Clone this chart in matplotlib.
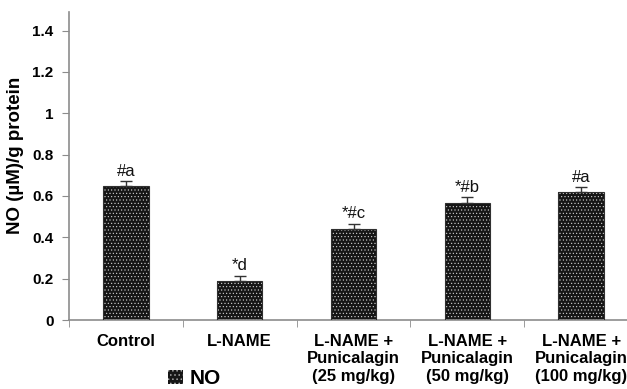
import numpy as np
import matplotlib
matplotlib.use('Agg')
import matplotlib.pyplot as plt
from matplotlib.patches import Patch

plt.rcParams['font.family'] = ['Liberation Sans', 'DejaVu Sans']
plt.rcParams['hatch.linewidth'] = 0.4

groups = ['Control', 'L-NAME', 'L-NAME +\nPunicalagin\n(25 mg/kg)',
          'L-NAME +\nPunicalagin\n(50 mg/kg)', 'L-NAME +\nPunicalagin\n(100 mg/kg)']
no_level = [0.65, 0.19, 0.44, 0.568, 0.617]
no_err = [0.022, 0.025, 0.025, 0.025, 0.025]
marks = ['#a', '*d', '*#c', '*#b', '#a']
yticks = [0, 0.2, 0.4, 0.6, 0.8, 1, 1.2, 1.4]

fig = plt.figure(figsize=(6.27, 3.89), dpi=100)
ax = fig.add_axes([69 / 627, 1 - 320 / 389, (638 - 69) / 627, 308 / 389])

x = np.arange(len(groups))
axis_col = '#8c8c8c'
bar_col = '#161616'

# dark bars with a fine white dot pattern, outline drawn on top
ax.bar(x, no_level, width=0.4, color=bar_col, edgecolor='#d8d8d8',
       hatch='.....', linewidth=0, zorder=2)
ax.bar(x, no_level, width=0.4, fill=False, edgecolor='#303030',
       linewidth=0.8, zorder=3)
ax.errorbar(x, no_level, yerr=[np.zeros(len(no_err)), no_err], fmt='none',
            ecolor='#333333', elinewidth=1.0, capsize=4, capthick=1.0, zorder=4)

for xi, v, e, m in zip(x, no_level, no_err, marks):
    ax.text(xi, v + e + 0.012, m, ha='center', va='bottom', fontsize=12,
            color='#111111')

ax.set_xlim(-0.5, len(groups) - 0.5)
ax.set_ylim(0, 1.49)
ax.set_yticks(yticks)
ax.set_yticklabels([f'{t:g}' for t in yticks], fontsize=11, fontweight='bold')
ax.set_ylabel('NO (µM)/g protein', fontsize=13.5, fontweight='bold')
ax.yaxis.set_label_coords(-0.079, 0.536)

ax.set_xticks(x)
ax.set_xticklabels(groups, fontsize=12, fontweight='bold', linespacing=1.2)
ax.set_xticks(np.arange(len(groups) + 1) - 0.5, minor=True)
ax.tick_params(axis='x', which='major', length=0, pad=10)
ax.tick_params(axis='x', which='minor', length=5, color=axis_col, direction='out')
ax.tick_params(axis='y', length=5, color=axis_col, direction='out', pad=6)

for s in ['top', 'right']:
    ax.spines[s].set_visible(False)
for s in ['left', 'bottom']:
    ax.spines[s].set_color(axis_col)
    ax.spines[s].set_linewidth(1.2)

handle = Patch(facecolor=bar_col, edgecolor='#d8d8d8', hatch='....', linewidth=0)
fig.legend([handle], ['NO'], loc='center', bbox_to_anchor=(0.31, 0.026),
           frameon=False, prop={'size': 15, 'weight': 'bold'},
           handlelength=0.7, handleheight=0.7, handletextpad=0.3)

fig.savefig('out.png', dpi=100)
